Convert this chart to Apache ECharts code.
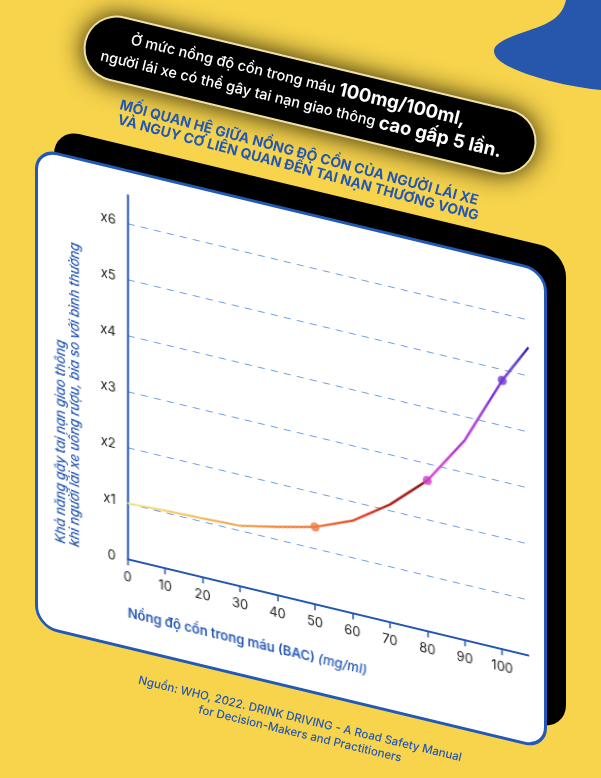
<!DOCTYPE html>
<html>
<head>
<meta charset="utf-8">
<script src="https://cdn.jsdelivr.net/npm/echarts@6/dist/echarts.min.js"></script>
<style>
  html, body { margin: 0; padding: 0; width: 601px; height: 778px; overflow: hidden; background: #F7D44C; }
  #bg { position: absolute; left: 0; top: 0; width: 601px; height: 778px; }
  #blob { position: absolute; left: 0; top: 0; }
  .skew { position: absolute; width: 512px; height: 480px; transform-origin: 0 0; transform: skewY(13.5deg); box-sizing: border-box; }
  #back { left: 54px; top: 128px; background: #000; border-radius: 26px; }
  #card { left: 35px; top: 147px; background: #fff; border: 3px solid #2258b6; border-radius: 22px; }
  #chart { left: 35px; top: 147px; }
</style>
</head>
<body>
<svg id="blob" width="601" height="778"><path d="M 566 0 C 562 18, 548 24, 530 30 C 505 38, 494 44, 494 51 C 494 63, 520 73, 550 81 C 570 86, 590 89, 601 90 L 601 0 Z" fill="#2657ad"/></svg>
<div id="bg"></div>
<div id="back" class="skew"></div>
<div id="card" class="skew"></div>
<div id="chart" class="skew"></div>
<script>
// ---- data ----
const bacValues  = [0, 10, 20, 30, 40, 50, 60, 70, 80, 90, 100, 107];
const riskValues = [1.0, 1.03, 1.05, 1.08, 1.22, 1.38, 1.65, 2.1, 2.69, 3.57, 4.8, 5.5];
const markerBac  = [50, 80, 100];
const markerRisk = [1.38, 2.69, 4.8];
const markerColors = ['#ef7a46', '#cf3bc4', '#6a32d6'];
const xTickValues = [0, 10, 20, 30, 40, 50, 60, 70, 80, 90, 100];
const yTickLabels = ['0', 'x1', 'x2', 'x3', 'x4', 'x5', 'x6'];

const FONT = 'Inter, "Noto Sans", Roboto, sans-serif';
const BLUE = '#2457b3';

// ---- background / texts ----
const bg = echarts.init(document.getElementById('bg'), null, {renderer: 'canvas'});
const rot = -13.5 * Math.PI / 180;
bg.setOption({
  animation: false,
  graphic: [
    { type: 'rect', x: 310, y: 95, rotation: rot,
      shape: { x: -232, y: -33, width: 464, height: 66, r: 33 },
      style: { fill: '#efe2a4', shadowBlur: 26, shadowColor: 'rgba(25,20,0,0.95)' } },
    { type: 'rect', x: 310, y: 95, rotation: rot,
      shape: { x: -230, y: -31, width: 460, height: 62, r: 31 },
      style: { fill: '#000' } },
    { type: 'text', x: 298, y: 80, rotation: rot,
      style: { text: 'Ở mức nồng độ cồn trong máu {b|100mg/100ml,}', fill: '#fff', font: '500 14.5px ' + FONT,
        align: 'center', verticalAlign: 'middle',
        rich: { b: { fill: '#fff', fontSize: 18.5, fontWeight: 'bold', fontFamily: FONT } } } },
    { type: 'text', x: 301, y: 104, rotation: rot,
      style: { text: 'người lái xe có thể gây tai nạn giao thông {b|cao gấp 5 lần.}', fill: '#fff', font: '500 14.5px ' + FONT,
        align: 'center', verticalAlign: 'middle',
        rich: { b: { fill: '#fff', fontSize: 18.5, fontWeight: 'bold', fontFamily: FONT } } } },
    { type: 'text', x: 299, y: 153, rotation: -15 * Math.PI / 180,
      style: { text: 'MỐI QUAN HỆ GIỮA NỒNG ĐỘ CỒN CỦA NGƯỜI LÁI XE', fill: BLUE, font: 'bold 14px ' + FONT,
        align: 'center', verticalAlign: 'middle' } },
    { type: 'text', x: 298, y: 168, rotation: -15 * Math.PI / 180,
      style: { text: 'VÀ NGUY CƠ LIÊN QUAN ĐẾN TAI NẠN THƯƠNG VONG', fill: BLUE, font: 'bold 14px ' + FONT,
        align: 'center', verticalAlign: 'middle' } },
    { type: 'text', x: 300, y: 719, rotation: rot,
      style: { text: 'Nguồn: WHO, 2022. DRINK DRIVING - A Road Safety Manual', fill: BLUE, font: '500 11.5px ' + FONT,
        align: 'center', verticalAlign: 'middle' } },
    { type: 'text', x: 300, y: 734, rotation: rot,
      style: { text: 'for Decision-Makers and Practitioners', fill: BLUE, font: '500 11.5px ' + FONT,
        align: 'center', verticalAlign: 'middle' } }
  ]
});

// ---- chart ----
const chart = echarts.init(document.getElementById('chart'), null, {renderer: 'canvas'});
const lineData = bacValues.map((x, i) => [x, riskValues[i]]);
const markerData = markerBac.map((x, i) => [x, markerRisk[i]]);
const xMax = bacValues[bacValues.length - 1];
const grad = new echarts.graphic.LinearGradient(0, 0, 1, 0, [
  { offset: 0 / xMax, color: '#f2ec94' },
  { offset: 20 / xMax, color: '#f3bb58' },
  { offset: 40 / xMax, color: '#f08a3a' },
  { offset: 52 / xMax, color: '#ef6a35' },
  { offset: 62 / xMax, color: '#e63a1c' },
  { offset: 72 / xMax, color: '#a21212' },
  { offset: 78 / xMax, color: '#8e1010' },
  { offset: 80 / xMax, color: '#d23cc8' },
  { offset: 90 / xMax, color: '#b02ad8' },
  { offset: 100 / xMax, color: '#6a32d6' },
  { offset: 1, color: '#2c1fa0' }
]);
chart.setOption({
  animation: false,
  grid: { left: 92.7, top: 26, width: 400.7, height: 364, containLabel: false },
  xAxis: {
    type: 'value', min: 0, max: xMax,
    axisLine: { show: true, lineStyle: { color: BLUE, width: 2 } },
    axisTick: { show: true, customValues: xTickValues, length: 6, lineStyle: { color: BLUE, width: 1.5 } },
    axisLabel: { customValues: xTickValues, margin: 12, color: '#1a1a1a', fontSize: 13, fontFamily: FONT },
    splitLine: { show: false }
  },
  yAxis: {
    type: 'value', min: 0, max: 6.5, interval: 1,
    axisLine: { show: true, lineStyle: { color: BLUE, width: 2 } },
    axisTick: { show: false },
    axisLabel: { margin: 12, color: '#1a1a1a', fontSize: 13, fontFamily: FONT,
      formatter: v => (yTickLabels[v] !== undefined ? yTickLabels[v] : '') },
    splitLine: { show: true, showMinLine: false, showMaxLine: false,
      lineStyle: { color: '#6e9ce0', width: 1, type: [7, 6] } }
  },
  series: [
    { type: 'line', data: lineData, showSymbol: false, symbol: 'none', smooth: false,
      lineStyle: { width: 2.2, color: grad }, z: 3 },
    { type: 'scatter', data: markerData, symbolSize: 9, z: 4,
      itemStyle: { color: p => markerColors[p.dataIndex] } }
  ],
  graphic: [
    { type: 'text', x: 33.5, y: 390, rotation: Math.PI / 2,
      style: { text: 'Khả năng gây tai nạn giao thông\nkhi người lái xe uống rượu, bia so với bình thường',
        fill: BLUE, font: 'italic 500 13px ' + FONT, lineHeight: 14, align: 'left', verticalAlign: 'middle' } },
    { type: 'text', x: 92.7, y: 444,
      style: { text: '{a|Nồng độ cồn trong máu (BAC) }{b|(mg/ml)}', align: 'left', verticalAlign: 'middle',
        rich: { a: { fill: BLUE, fontSize: 13, fontWeight: 600, fontFamily: FONT },
                b: { fill: BLUE, fontSize: 13, fontWeight: 500, fontStyle: 'italic', fontFamily: FONT } } } }
  ]
});
</script>
</body>
</html>
